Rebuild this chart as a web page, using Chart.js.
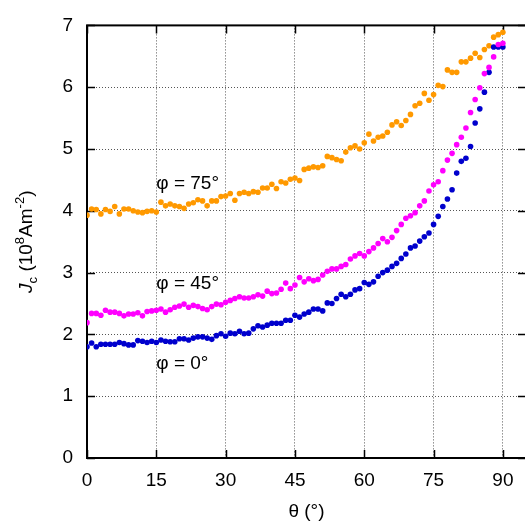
<!DOCTYPE html>
<html>
<head>
<meta charset="utf-8">
<script src="https://cdn.jsdelivr.net/npm/chart.js@4/dist/chart.umd.min.js"></script>
<style>
  html, body { margin: 0; padding: 0; background: #fff; overflow: hidden; }
  canvas { display: block; }
</style>
</head>
<body>
<canvas id="jcChart" width="540" height="524"></canvas>
<script>
// Measurement angles (degrees)
const theta = [
  0, 1, 2, 3, 4, 5, 6, 7, 8, 9, 10, 11, 12, 13, 14,
  15, 16, 17, 18, 19, 20, 21, 22, 23, 24, 25, 26, 27, 28, 29,
  30, 31, 32, 33, 34, 35, 36, 37, 38, 39, 40, 41, 42, 43, 44,
  45, 46, 47, 48, 49, 50, 51, 52, 53, 54, 55, 56, 57, 58, 59,
  60, 61, 62, 63, 64, 65, 66, 67, 68, 69, 70, 71, 72, 73, 74,
  75, 76, 77, 78, 79, 80, 81, 82, 83, 84, 85, 86, 87, 88, 89, 90
];

// Critical current density Jc (10^8 A/m^2) for each field angle phi
const jcPhi0 = [
  1.80, 1.86, 1.80, 1.84, 1.84, 1.84, 1.84, 1.87, 1.85, 1.83, 1.83, 1.90, 1.89, 1.87, 1.89,
  1.87, 1.91, 1.89, 1.88, 1.88, 1.93, 1.93, 1.91, 1.94, 1.96, 1.96, 1.94, 1.92, 1.98, 2.01,
  1.97, 2.02, 2.01, 2.05, 2.01, 2.02, 2.09, 2.14, 2.12, 2.15, 2.18, 2.18, 2.18, 2.23, 2.23,
  2.31, 2.28, 2.33, 2.36, 2.41, 2.41, 2.38, 2.51, 2.50, 2.58, 2.65, 2.61, 2.65, 2.72, 2.74,
  2.84, 2.81, 2.85, 2.94, 3.00, 3.04, 3.10, 3.15, 3.23, 3.30, 3.40, 3.43, 3.51, 3.58, 3.64,
  3.78, 3.91, 4.07, 4.19, 4.34, 4.61, 4.80, 4.85, 5.04, 5.42, 5.65, 5.92, 6.24, 6.65, 6.65, 6.65
];
const jcPhi45 = [
  2.19, 2.34, 2.34, 2.31, 2.39, 2.36, 2.36, 2.34, 2.30, 2.33, 2.33, 2.35, 2.30, 2.37, 2.38,
  2.39, 2.41, 2.36, 2.40, 2.44, 2.46, 2.49, 2.44, 2.47, 2.45, 2.42, 2.40, 2.45, 2.49, 2.48,
  2.52, 2.55, 2.58, 2.61, 2.59, 2.59, 2.61, 2.64, 2.62, 2.70, 2.66, 2.67, 2.73, 2.83, 2.74,
  2.80, 2.92, 2.85, 2.90, 2.87, 2.89, 2.96, 3.02, 3.06, 3.06, 3.10, 3.13, 3.22, 3.27, 3.31,
  3.27, 3.34, 3.40, 3.47, 3.55, 3.50, 3.57, 3.68, 3.78, 3.88, 3.92, 3.97, 4.08, 4.16, 4.32,
  4.42, 4.47, 4.65, 4.82, 4.93, 5.07, 5.19, 5.34, 5.59, 5.80, 5.99, 6.22, 6.32, 6.49, 6.69, 6.71
];
const jcPhi75 = [
  3.93, 4.03, 4.02, 3.95, 4.02, 3.99, 4.07, 3.95, 4.03, 4.03, 4.00, 3.98, 3.97, 3.99, 4.00,
  3.98, 4.14, 4.08, 4.11, 4.08, 4.07, 4.04, 4.11, 4.13, 4.18, 4.16, 4.08, 4.16, 4.16, 4.23,
  4.24, 4.28, 4.17, 4.28, 4.30, 4.28, 4.31, 4.30, 4.37, 4.37, 4.43, 4.36, 4.47, 4.45, 4.51,
  4.53, 4.49, 4.67, 4.69, 4.71, 4.70, 4.73, 4.88, 4.86, 4.83, 4.81, 4.95, 5.02, 5.05, 5.00,
  5.10, 5.24, 5.13, 5.19, 5.21, 5.27, 5.39, 5.44, 5.38, 5.46, 5.56, 5.70, 5.74, 5.90, 5.79,
  5.88, 6.03, 6.01, 6.28, 6.24, 6.24, 6.41, 6.41, 6.47, 6.55, 6.48, 6.61, 6.67, 6.81, 6.85, 6.89
];

const xTicks = [0, 15, 30, 45, 60, 75, 90];
const yTicks = [0, 1, 2, 3, 4, 5, 6, 7];
const seriesNames = ['φ = 0°', 'φ = 45°', 'φ = 75°'];

const FONT = '"Liberation Sans", Arial, Helvetica, sans-serif';
const toPoints = ys => theta.map((t, i) => ({ x: t, y: ys[i] }));

// Box border and inward tick marks on all four sides (gnuplot style)
const framePlugin = {
  id: 'frame',
  beforeDatasetsDraw(chart) {
    const { ctx, chartArea: a, scales: { x, y } } = chart;
    const tl = 8;
    ctx.save();
    ctx.strokeStyle = '#000';
    ctx.lineWidth = 1.5;
    ctx.beginPath();
    xTicks.forEach(v => {
      const px = Math.round(x.getPixelForValue(v)) + 0.5;
      ctx.moveTo(px, a.bottom); ctx.lineTo(px, a.bottom - tl);
      ctx.moveTo(px, a.top); ctx.lineTo(px, a.top + tl);
    });
    yTicks.forEach(v => {
      const py = Math.round(y.getPixelForValue(v)) + 0.5;
      ctx.moveTo(a.left, py); ctx.lineTo(a.left + tl, py);
      ctx.moveTo(a.right, py); ctx.lineTo(a.right - tl, py);
    });
    ctx.stroke();
    ctx.lineWidth = 2;
    ctx.strokeRect(a.left, a.top, a.right - a.left, a.bottom - a.top);
    ctx.restore();
  },
  afterDraw(chart) {
    const { ctx, scales: { x, y } } = chart;
    ctx.save();
    // curve labels
    ctx.fillStyle = '#000';
    ctx.font = '19px ' + FONT;
    ctx.textAlign = 'left';
    ctx.textBaseline = 'middle';
    ctx.fillText(seriesNames[2], x.getPixelForValue(15), y.getPixelForValue(4.43));
    ctx.fillText(seriesNames[1], x.getPixelForValue(15), y.getPixelForValue(2.82));
    ctx.fillText(seriesNames[0], x.getPixelForValue(15), y.getPixelForValue(1.53));

    // y axis title: J_c (10^8 Am^-2), rotated
    const base = '19px ' + FONT;
    const small = '13px ' + FONT;
    const parts = [
      { t: 'J', f: 'italic ' + base, dy: 0 },
      { t: 'c', f: small, dy: 5 },
      { t: ' (10', f: base, dy: 0 },
      { t: '8', f: small, dy: -8 },
      { t: 'Am', f: base, dy: 0 },
      { t: '-2', f: small, dy: -8 },
      { t: ')', f: base, dy: 0 }
    ];
    let total = 0;
    parts.forEach(p => { ctx.font = p.f; p.w = ctx.measureText(p.t).width; total += p.w; });
    ctx.translate(32, (chart.chartArea.top + chart.chartArea.bottom) / 2);
    ctx.rotate(-Math.PI / 2);
    ctx.textBaseline = 'alphabetic';
    let cx = -total / 2;
    parts.forEach(p => {
      ctx.font = p.f;
      ctx.fillText(p.t, cx, p.dy);
      cx += p.w;
    });
    ctx.restore();
  }
};

const ctx = document.getElementById('jcChart').getContext('2d');
new Chart(ctx, {
  type: 'scatter',
  data: {
    datasets: [
      { label: seriesNames[0], data: toPoints(jcPhi0), backgroundColor: '#0000cd', order: 2 },
      { label: seriesNames[1], data: toPoints(jcPhi45), backgroundColor: '#ff00ff', order: 1 },
      { label: seriesNames[2], data: toPoints(jcPhi75), backgroundColor: '#ff9900', order: 3 }
    ]
  },
  options: {
    responsive: false,
    animation: false,
    events: [],
    layout: { padding: { left: 0, top: 19, right: 14, bottom: 0 } },
    elements: { point: { radius: 2.8, borderWidth: 0, hoverRadius: 2.8 } },
    plugins: { legend: { display: false }, tooltip: { enabled: false } },
    scales: {
      x: {
        type: 'linear',
        min: 0,
        max: 95,
        afterBuildTicks: s => { s.ticks = xTicks.map(v => ({ value: v })); },
        afterFit: s => { s.height = 66; },
        grid: { color: '#555', lineWidth: 1, drawTicks: false },
        border: { display: false, dash: [1, 2] },
        ticks: { padding: 11, color: '#000', font: { family: FONT, size: 19 } },
        title: {
          display: true,
          text: 'θ (°)',
          color: '#000',
          font: { family: FONT, size: 19 },
          padding: { top: 0, bottom: 1 }
        }
      },
      y: {
        type: 'linear',
        min: 0,
        max: 7,
        afterBuildTicks: s => { s.ticks = yTicks.map(v => ({ value: v })); },
        afterFit: s => { s.width = 87; },
        grid: { color: '#555', lineWidth: 1, drawTicks: false },
        border: { display: false, dash: [1, 2] },
        ticks: { padding: 14, color: '#000', font: { family: FONT, size: 19 } }
      }
    }
  },
  plugins: [framePlugin]
});
</script>
</body>
</html>
